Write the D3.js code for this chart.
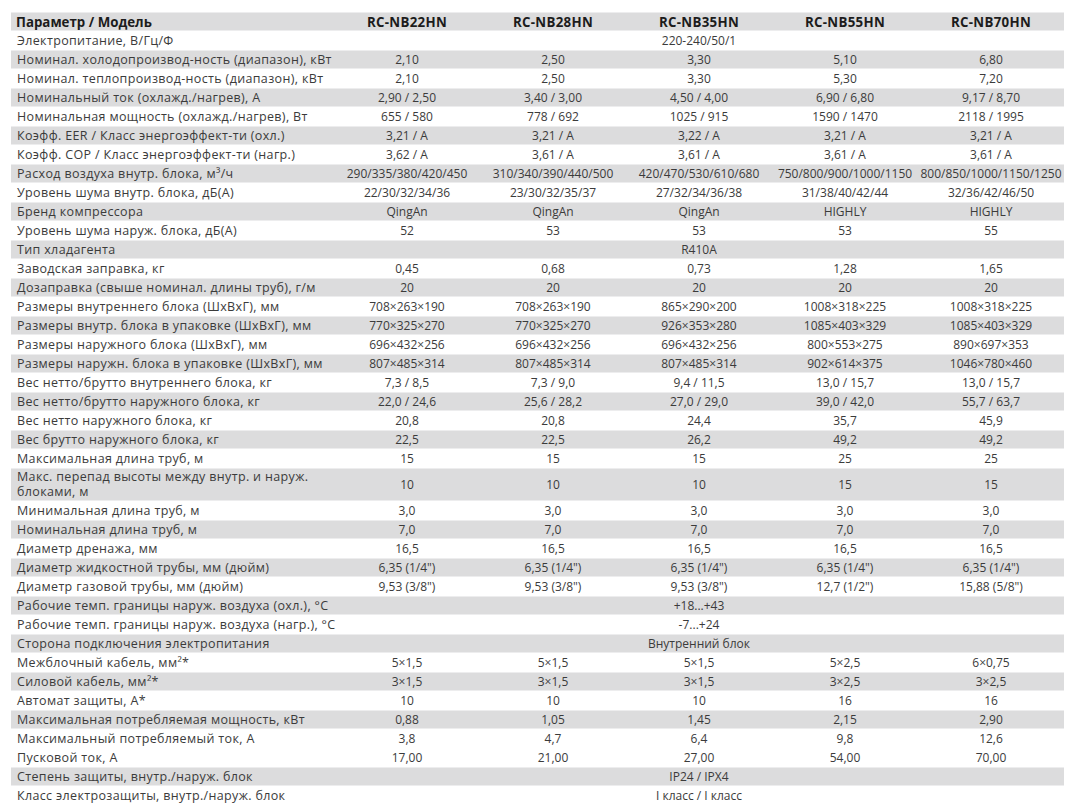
<!DOCTYPE html>
<html>
<head>
<meta charset="utf-8">
<script src="https://cdn.jsdelivr.net/npm/d3@7"></script>
<style>
  body { margin: 0; background: #fff; }
  text { font-family: "Open Sans", sans-serif; }
</style>
</head>
<body>
<div id="table"></div>
<script>
// models (columns)
var models = ["RC-NB22HN", "RC-NB28HN", "RC-NB35HN", "RC-NB55HN", "RC-NB70HN"];

// parameter names (rows)
var params = [
  "Электропитание, В/Гц/Ф",
  "Номинал. холодопроизвод-ность (диапазон), кВт",
  "Номинал. теплопроизвод-ность (диапазон), кВт",
  "Номинальный ток (охлажд./нагрев), А",
  "Номинальная мощность (охлажд./нагрев), Вт",
  "Коэфф. EER / Класс энергоэффект-ти (охл.)",
  "Коэфф. COP / Класс энергоэффект-ти (нагр.)",
  "Расход воздуха внутр. блока, м³/ч",
  "Уровень шума внутр. блока, дБ(А)",
  "Бренд компрессора",
  "Уровень шума наруж. блока, дБ(А)",
  "Тип хладагента",
  "Заводская заправка, кг",
  "Дозаправка (свыше номинал. длины труб), г/м",
  "Размеры внутреннего блока (ШхВхГ), мм",
  "Размеры внутр. блока в упаковке (ШхВхГ), мм",
  "Размеры наружного блока (ШхВхГ), мм",
  "Размеры наружн. блока в упаковке (ШхВхГ), мм",
  "Вес нетто/брутто внутреннего блока, кг",
  "Вес нетто/брутто наружного блока, кг",
  "Вес нетто наружного блока, кг",
  "Вес брутто наружного блока, кг",
  "Максимальная длина труб, м",
  "Макс. перепад высоты между внутр. и наруж.|блоками, м",
  "Минимальная длина труб, м",
  "Номинальная длина труб, м",
  "Диаметр дренажа, мм",
  "Диаметр жидкостной трубы, мм (дюйм)",
  "Диаметр газовой трубы, мм (дюйм)",
  "Рабочие темп. границы наруж. воздуха (охл.), °С",
  "Рабочие темп. границы наруж. воздуха (нагр.), °С",
  "Сторона подключения электропитания",
  "Межблочный кабель, мм²*",
  "Силовой кабель, мм²*",
  "Автомат защиты, А*",
  "Максимальная потребляемая мощность, кВт",
  "Максимальный потребляемый ток, А",
  "Пусковой ток, А",
  "Степень защиты, внутр./наруж. блок",
  "Класс электрозащиты, внутр./наруж. блок"
];

// one value shared by all models (null where each model has its own)
var common = [
  "220-240/50/1", null, null, null, null, null, null, null, null, null,
  null, "R410A", null, null, null, null, null, null, null, null,
  null, null, null, null, null, null, null, null, null, "+18...+43",
  "-7...+24", "Внутренний блок", null, null, null, null, null, null, "IP24 / IPX4", "I класс / I класс"
];

var nb22 = [null, "2,10", "2,10", "2,90 / 2,50", "655 / 580", "3,21 / A", "3,62 / A",
  "290/335/380/420/450", "22/30/32/34/36", "QingAn", "52", null, "0,45", "20",
  "708×263×190", "770×325×270", "696×432×256", "807×485×314", "7,3 / 8,5", "22,0 / 24,6",
  "20,8", "22,5", "15", "10", "3,0", "7,0", "16,5", "6,35 (1/4\")", "9,53 (3/8\")",
  null, null, null, "5×1,5", "3×1,5", "10", "0,88", "3,8", "17,00", null, null];

var nb28 = [null, "2,50", "2,50", "3,40 / 3,00", "778 / 692", "3,21 / A", "3,61 / A",
  "310/340/390/440/500", "23/30/32/35/37", "QingAn", "53", null, "0,68", "20",
  "708×263×190", "770×325×270", "696×432×256", "807×485×314", "7,3 / 9,0", "25,6 / 28,2",
  "20,8", "22,5", "15", "10", "3,0", "7,0", "16,5", "6,35 (1/4\")", "9,53 (3/8\")",
  null, null, null, "5×1,5", "3×1,5", "10", "1,05", "4,7", "21,00", null, null];

var nb35 = [null, "3,30", "3,30", "4,50 / 4,00", "1025 / 915", "3,22 / A", "3,61 / A",
  "420/470/530/610/680", "27/32/34/36/38", "QingAn", "53", null, "0,73", "20",
  "865×290×200", "926×353×280", "696×432×256", "807×485×314", "9,4 / 11,5", "27,0 / 29,0",
  "24,4", "26,2", "15", "10", "3,0", "7,0", "16,5", "6,35 (1/4\")", "9,53 (3/8\")",
  null, null, null, "5×1,5", "3×1,5", "10", "1,45", "6,4", "27,00", null, null];

var nb55 = [null, "5,10", "5,30", "6,90 / 6,80", "1590 / 1470", "3,21 / A", "3,61 / A",
  "750/800/900/1000/1150", "31/38/40/42/44", "HIGHLY", "53", null, "1,28", "20",
  "1008×318×225", "1085×403×329", "800×553×275", "902×614×375", "13,0 / 15,7", "39,0 / 42,0",
  "35,7", "49,2", "25", "15", "3,0", "7,0", "16,5", "6,35 (1/4\")", "12,7 (1/2\")",
  null, null, null, "5×2,5", "3×2,5", "16", "2,15", "9,8", "54,00", null, null];

var nb70 = [null, "6,80", "7,20", "9,17 / 8,70", "2118 / 1995", "3,21 / A", "3,61 / A",
  "800/850/1000/1150/1250", "32/36/42/46/50", "HIGHLY", "55", null, "1,65", "20",
  "1008×318×225", "1085×403×329", "890×697×353", "1046×780×460", "13,0 / 15,7", "55,7 / 63,7",
  "45,9", "49,2", "25", "15", "3,0", "7,0", "16,5", "6,35 (1/4\")", "15,88 (5/8\")",
  null, null, null, "6×0,75", "3×2,5", "16", "2,90", "12,6", "70,00", null, null];

var series = [nb22, nb28, nb35, nb55, nb70];

var W = 1075, H = 809;
var tLeft = 11, tRight = 1064, tTop = 12.5, labelColRight = 334;
var rowH = 19, doubleUnits = 33 / 19;

var svg = d3.select("#table").append("svg")
  .attr("width", W)
  .attr("height", H);

// row heights in units (the two-line label gets a taller row)
var units = params.map(function(p) { return p.indexOf("|") >= 0 ? doubleUnits : 1; });
var starts = [1];
units.forEach(function(u, i) { starts.push(starts[i] + u); });
var totalUnits = starts[starts.length - 1];

var y = d3.scaleLinear()
  .domain([0, totalUnits])
  .range([tTop, tTop + totalUnits * rowH]);

var x = d3.scaleBand()
  .domain(models)
  .range([labelColRight, tRight]);

var rows = params.map(function(p, i) {
  return {
    label: p.split("|"),
    y0: y(starts[i]),
    y1: y(starts[i + 1]),
    common: common[i],
    values: series.map(function(s) { return s[i]; }),
    // stripes alternate, the two current rows near the end share white
    shaded: ((i + (i >= 37 ? 1 : 0)) % 2) === 1
  };
});

// header
svg.append("rect")
  .attr("x", tLeft).attr("y", y(0))
  .attr("width", tRight - tLeft).attr("height", y(1) - y(0) - 1)
  .attr("fill", "#dcdcdd");

svg.append("text")
  .attr("x", 16).attr("y", (y(0) + y(1)) / 2)
  .attr("dy", "0.35em")
  .style("font-size", "13.3px").style("font-weight", "700")
  .attr("fill", "#1c1c1c")
  .text("Параметр / Модель");

svg.selectAll(".model")
  .data(models)
  .enter()
  .append("text")
    .attr("class", "model")
    .attr("x", function(d) { return x(d) + x.bandwidth() / 2; })
    .attr("y", (y(0) + y(1)) / 2)
    .attr("dy", "0.35em")
    .attr("text-anchor", "middle")
    .style("font-size", "13.3px").style("font-weight", "700")
    .style("letter-spacing", "0.3px")
    .attr("fill", "#1c1c1c")
    .text(function(d) { return d; });

// body rows
var g = svg.selectAll(".row")
  .data(rows)
  .enter()
  .append("g")
    .attr("class", "row");

g.filter(function(d) { return d.shaded; })
  .append("rect")
    .attr("x", tLeft)
    .attr("y", function(d) { return d.y0; })
    .attr("width", tRight - tLeft)
    .attr("height", function(d) { return d.y1 - d.y0 - 1; })
    .attr("fill", "#dcdcdd");

g.each(function(d) {
  var row = d3.select(this);
  var n = d.label.length;
  var mid = (d.y0 + d.y1) / 2 - 0.5;
  d.label.forEach(function(line, k) {
    row.append("text")
      .attr("x", 17)
      .attr("y", mid + (k - (n - 1) / 2) * 15)
      .attr("dy", "0.35em")
      .style("font-size", "12.5px")
      .style("letter-spacing", "0.35px")
      .attr("fill", "#3b3b3b")
      .text(line);
  });
  if (d.common) {
    row.append("text")
      .attr("x", x(models[2]) + x.bandwidth() / 2)
      .attr("y", mid)
      .attr("dy", "0.35em")
      .attr("text-anchor", "middle")
      .style("font-size", "12px")
      .attr("fill", "#3b3b3b")
      .text(d.common);
  } else {
    d.values.forEach(function(v, k) {
      row.append("text")
        .attr("x", x(models[k]) + x.bandwidth() / 2)
        .attr("y", mid)
        .attr("dy", "0.35em")
        .attr("text-anchor", "middle")
        .style("font-size", "12px")
        .attr("fill", "#3b3b3b")
        .text(v);
    });
  }
});
</script>
</body>
</html>
